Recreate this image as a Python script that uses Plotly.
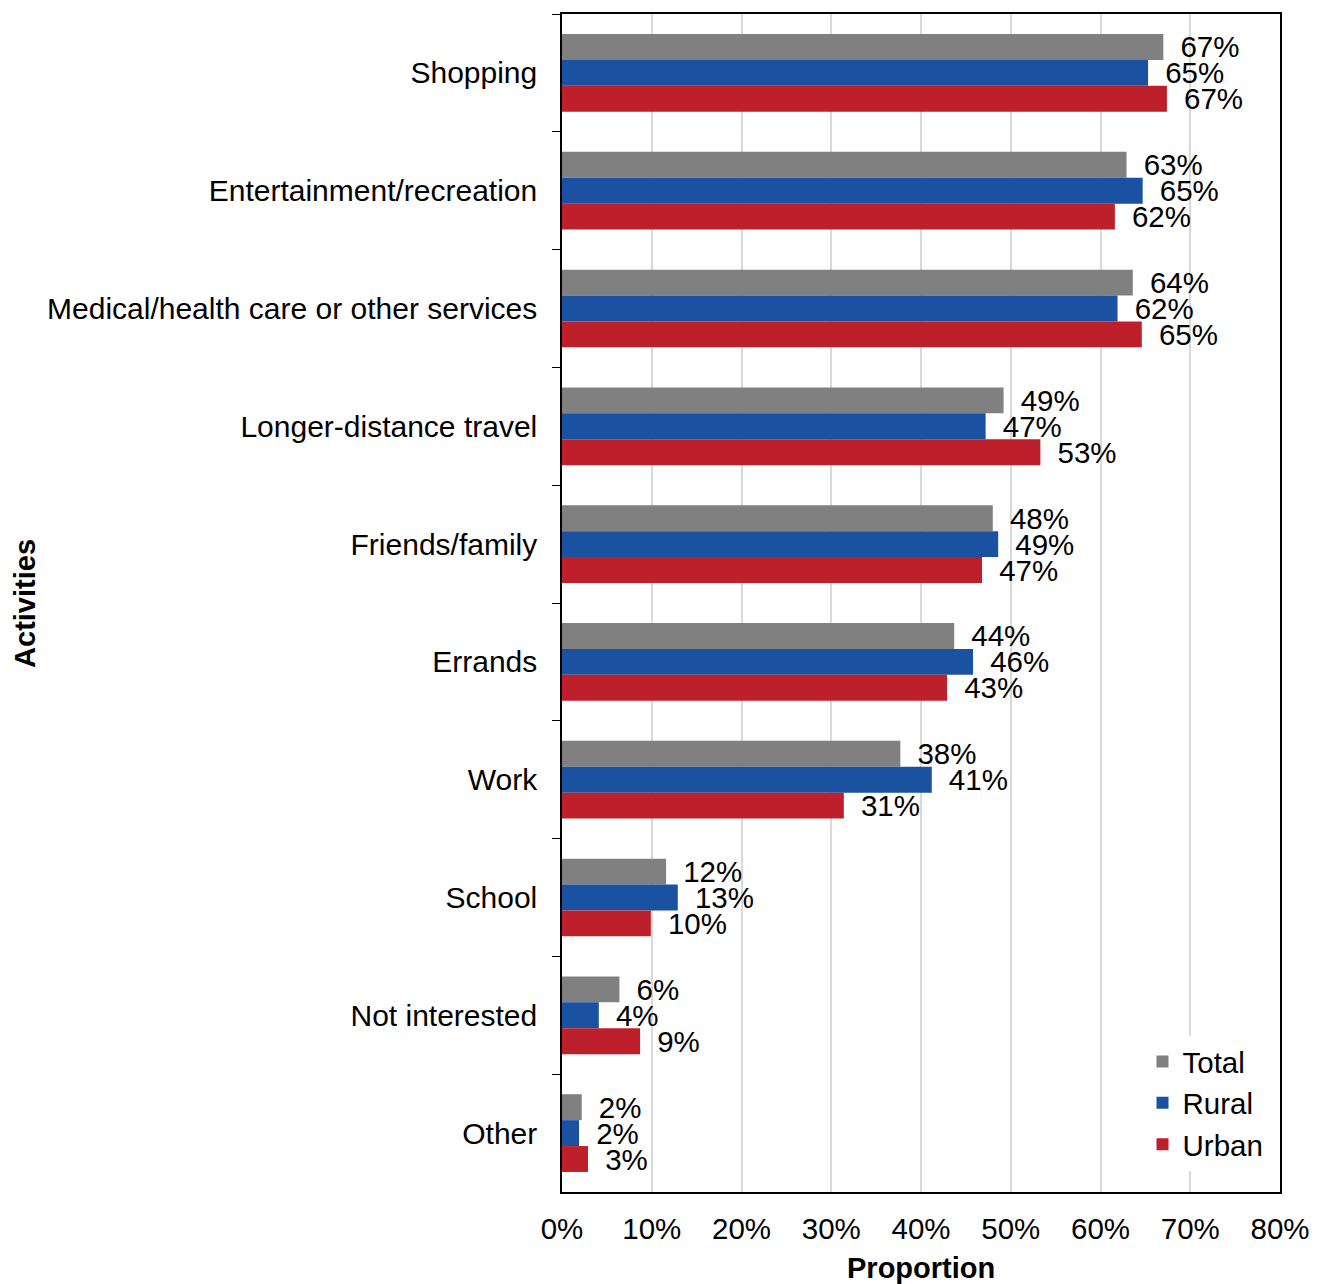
import plotly.graph_objects as go

# Activities (top to bottom) and share of respondents for each group
activities = [
    "Shopping",
    "Entertainment/recreation",
    "Medical/health care or other services",
    "Longer-distance travel",
    "Friends/family",
    "Errands",
    "Work",
    "School",
    "Not interested",
    "Other",
]
total = [0.670, 0.629, 0.636, 0.492, 0.480, 0.437, 0.377, 0.116, 0.064, 0.022]
rural = [0.653, 0.647, 0.619, 0.472, 0.486, 0.458, 0.412, 0.129, 0.041, 0.019]
urban = [0.674, 0.616, 0.646, 0.533, 0.468, 0.429, 0.314, 0.099, 0.087, 0.029]
x_ticks = [0.0, 0.1, 0.2, 0.3, 0.4, 0.5, 0.6, 0.7, 0.8]

series = [
    ("Total", total, "#808080"),
    ("Rural", rural, "#1a51a0"),
    ("Urban", urban, "#be202b"),
]

FONT = "Liberation Sans, Arial, sans-serif"

fig = go.Figure()
for name, vals, color in series:
    fig.add_trace(go.Bar(
        name=name,
        y=activities,
        x=vals,
        orientation="h",
        marker=dict(color=color, line=dict(width=0)),
        texttemplate="\u00a0\u2009%{x:.0%}",
        textposition="outside",
        constraintext="none",
        cliponaxis=False,
        textfont=dict(family=FONT, size=29.5, color="#000000"),
        hoverinfo="skip",
    ))

fig.update_layout(
    width=1323,
    height=1284,
    margin=dict(l=562, r=43, t=12, b=92),
    paper_bgcolor="white",
    plot_bgcolor="white",
    barmode="group",
    bargap=0.34,
    bargroupgap=0,
    showlegend=True,
    legend=dict(
        x=0.984, y=0.018, xanchor="right", yanchor="bottom",
        bgcolor="white",
        font=dict(family=FONT, size=29.5, color="#000000"),
        itemsizing="constant",
        traceorder="normal",
        tracegroupgap=0,
    ),
    font=dict(family=FONT, size=29.5, color="#000000"),
    xaxis=dict(
        range=[0, 0.8],
        tickvals=x_ticks,
        tickformat=".0%",
        showgrid=True,
        gridcolor="#d9d9d9",
        gridwidth=2,
        showline=True,
        linecolor="#000000",
        linewidth=1.5,
        mirror=True,
        ticks="",
        ticklabelstandoff=10,
        tickfont=dict(family=FONT, size=29.5, color="#000000"),
        zeroline=False,
        fixedrange=True,
    ),
    yaxis=dict(
        autorange="reversed",
        showline=True,
        linecolor="#000000",
        linewidth=1.5,
        mirror=True,
        ticks="outside",
        tickson="boundaries",
        ticklen=8,
        tickcolor="#000000",
        ticklabelstandoff=17,
        tickfont=dict(family=FONT, size=30, color="#000000"),
        showgrid=False,
        fixedrange=True,
    ),
    annotations=[
        dict(text="<b>Activities</b>", xref="paper", yref="paper",
             x=-0.748, y=0.5, xanchor="center", yanchor="middle",
             textangle=-90, showarrow=False,
             font=dict(family=FONT, size=29, color="#000000")),
        dict(text="<b>Proportion</b>", xref="paper", yref="paper",
             x=0.5, y=-0.0644, xanchor="center", yanchor="middle",
             showarrow=False,
             font=dict(family=FONT, size=29, color="#000000")),
    ],
)

fig.write_html("out.html")
